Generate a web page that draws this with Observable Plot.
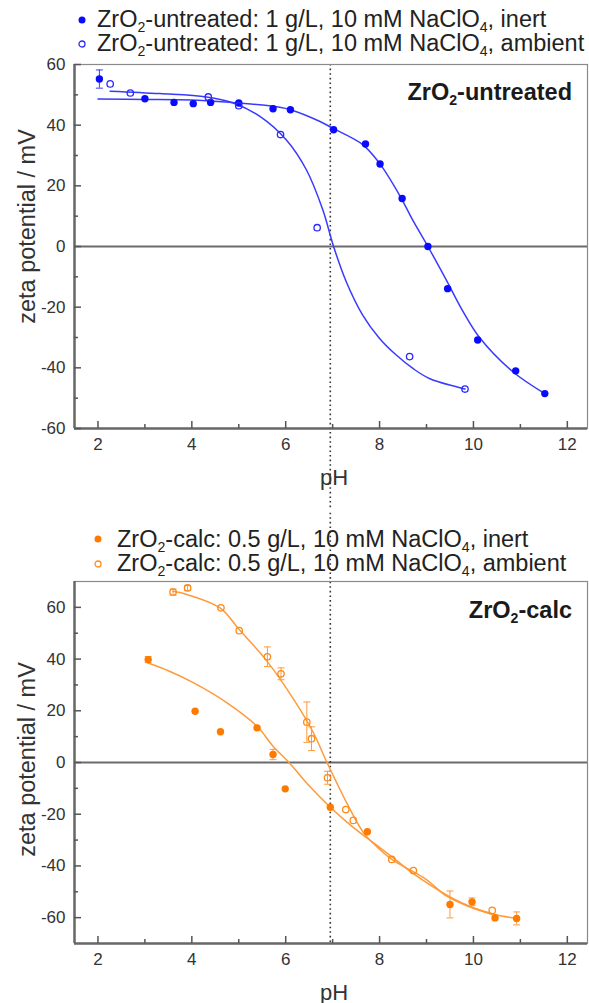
<!DOCTYPE html>
<html><head><meta charset="utf-8">
<script src="https://cdn.jsdelivr.net/npm/d3@7"></script>
<script src="https://cdn.jsdelivr.net/npm/@observablehq/plot@0.6"></script>
<style>
body{margin:0;background:#fff;font-family:"Liberation Sans",Arial,sans-serif;color:#222}
#wrap{position:relative;width:589px;height:1003px;overflow:hidden;background:#fff}
.leg{position:absolute;white-space:nowrap;font-size:23.5px;line-height:23px;color:#222}
.leg sub,.ttl sub{font-size:0.6em;vertical-align:-0.35em;line-height:0}
.leg svg{position:absolute;overflow:visible}
.ttl{position:absolute;font-weight:bold;font-size:23.5px;line-height:24px;white-space:nowrap;color:#1a1a1a}
.pl{position:absolute;left:0}
</style></head><body>
<div id="wrap">
  <div id="p1" class="pl" style="top:30px"></div>
  <div id="p2" class="pl" style="top:510px"></div>
  <div class="leg" style="left:97px;top:8px"><svg width="10" height="10" style="left:-20px;top:7px"><circle cx="5" cy="5" r="3.5" fill="#0a0aff"/></svg>ZrO<sub>2</sub>-untreated: 1 g/L, 10 mM NaClO<sub>4</sub>, inert</div>
  <div class="leg" style="left:97px;top:32px"><svg width="10" height="10" style="left:-20px;top:7px"><circle cx="5" cy="5" r="3" fill="none" stroke="#2a2aff" stroke-width="1.3"/></svg>ZrO<sub>2</sub>-untreated: 1 g/L, 10 mM NaClO<sub>4</sub>, ambient</div>
  <div class="leg" style="left:117px;top:528px"><svg width="10" height="10" style="left:-24px;top:6px"><circle cx="5" cy="5" r="3.5" fill="#ff7a00"/></svg>ZrO<sub>2</sub>-calc: 0.5 g/L, 10 mM NaClO<sub>4</sub>, inert</div>
  <div class="leg" style="left:117px;top:552px"><svg width="10" height="10" style="left:-24px;top:7px"><circle cx="5" cy="5" r="3" fill="none" stroke="#ff8a1a" stroke-width="1.3"/></svg>ZrO<sub>2</sub>-calc: 0.5 g/L, 10 mM NaClO<sub>4</sub>, ambient</div>
  <div class="ttl" style="right:17px;top:80px">ZrO<sub>2</sub>-untreated</div>
  <div class="ttl" style="right:17px;top:598px">ZrO<sub>2</sub>-calc</div>
</div>
<script>
// ---------- axes / ticks ----------
const xDomain = [1.5, 12.43];
const xMajor = [2, 4, 6, 8, 10, 12];
const xMinor = [3, 5, 7, 9, 11];
const yDomainTop = [-60, 60];
const yDomainBottom = [-70, 70];
const yMajor = [-60, -40, -20, 0, 20, 40, 60];
const yMinor = [-50, -30, -10, 10, 30, 50];
const iepPH = [6.95];               // dotted reference line (pH)
const iepSpanTop = [60, -95];       // zeta span of dotted line in top panel
const iepSpanBottom = [100, -70];   // zeta span of dotted line in bottom panel

// ---------- ZrO2-untreated (top) ----------
const untrInertPH   = [2.03, 3.0, 3.62, 4.03, 4.40, 5.0, 5.73, 6.1, 7.02, 7.70, 8.01, 8.48, 9.03, 9.45, 10.09, 10.9, 11.52];
const untrInertZeta = [55.2, 48.7, 47.5, 47.1, 47.5, 47.3, 45.4, 45.1, 38.5, 33.8, 27.2, 15.8, 0.0, -13.9, -30.8, -41.0, -48.5];
const untrInertErr  = [3.0, 0, 0, 0, 0, 0, 0, 0, 0, 0, 0, 0, 0, 0, 0, 0, 0];

const untrAmbPH   = [2.26, 2.69, 4.35, 5.0, 5.89, 6.67, 8.64, 9.82];
const untrAmbZeta = [53.6, 50.6, 49.3, 46.4, 36.9, 6.2, -36.3, -47.0];

const untrInertFitPH   = [2.0, 3.0, 4.0, 5.0, 5.87, 6.1, 6.72, 7.0, 7.64, 8.0, 8.43, 8.71, 9.03, 9.42, 9.77, 10.13, 10.84, 11.52];
const untrInertFitZeta = [48.6, 48.5, 48.3, 47.3, 45.9, 45.1, 41.3, 39.0, 33.6, 27.4, 16.8, 8.6, 0.0, -11.0, -21.2, -30.0, -41.3, -48.5];

const untrAmbFitPH   = [2.26, 3.32, 4.31, 4.88, 5.45, 6.01, 6.44, 6.79, 7.02, 7.29, 7.64, 8.0, 8.35, 8.71, 9.06, 9.82];
const untrAmbFitZeta = [51.2, 50.4, 49.3, 47.3, 42.9, 35.2, 25.3, 12.1, 0.0, -11.6, -22.6, -30.3, -35.7, -40.2, -43.5, -47.0];

// ---------- ZrO2-calc (bottom) ----------
const calcInertPH   = [3.07, 4.07, 4.61, 5.39, 5.73, 5.99, 6.95, 7.74, 9.50, 9.97, 10.46, 10.92];
const calcInertZeta = [39.8, 19.8, 11.9, 13.4, 3.1, -10.2, -17.3, -26.8, -54.9, -53.9, -60.1, -60.3];
const calcInertErr  = [1.2, 0, 0, 0, 2.0, 0, 0, 0, 5.2, 1.5, 0, 2.5];

const calcAmbPH   = [3.60, 3.91, 4.62, 5.01, 5.61, 5.90, 6.45, 6.55, 6.89, 7.28, 7.44, 8.26, 8.72, 10.40];
const calcAmbZeta = [65.9, 67.5, 59.8, 51.0, 40.9, 34.3, 15.6, 9.2, -5.9, -18.2, -22.4, -37.5, -41.8, -57.2];
const calcAmbErr  = [1.2, 1.0, 0, 0, 3.8, 2.3, 7.8, 4.6, 2.5, 0, 0, 0, 0, 0];

const calcInertFitPH   = [3.07, 3.5, 4.04, 4.75, 5.39, 5.73, 6.07, 6.5, 6.95, 7.4, 7.9, 8.3, 8.72, 9.5, 9.97, 10.46, 10.92];
const calcInertFitZeta = [38.5, 35.5, 30.8, 23.1, 14.0, 6.3, 0.0, -9.0, -17.3, -24.5, -31.5, -37.0, -43.0, -52.0, -56.0, -58.8, -60.3];

const calcAmbFitPH   = [3.60, 3.91, 4.6, 5.01, 5.6, 6.17, 6.59, 6.88, 7.3, 7.66, 8.0, 8.26, 8.99, 9.43, 9.97, 10.4];
const calcAmbFitZeta = [66.2, 64.9, 59.8, 51.4, 39.2, 24.4, 11.5, 0.0, -15.6, -27.2, -33.5, -37.5, -45.2, -51.7, -56.2, -58.8];

const zip = (xs, ys, es) => xs.map((x, i) => ({ph: x, z: ys[i], e: es ? es[i] : 0}));

const capSymbol = {draw(ctx, size) { const w = Math.sqrt(size / Math.PI); ctx.moveTo(-w, 0); ctx.lineTo(w, 0); }};

const W = 589, ML = 74, MR = 2;
const FW = W - ML - MR;

function panel({height, marginTop, marginBottom, yDomain, iepSpan, labelDy, series}) {
  const FH = height - marginTop - marginBottom;
  const marks = [
    Plot.ruleY([0], {stroke: "#6b6b6b", strokeWidth: 2}),
    Plot.ruleX(iepPH, {x: d => d, y1: iepSpan[0], y2: iepSpan[1], stroke: "#333", strokeWidth: 1.6, strokeDasharray: "1.6,3"})
  ];
  for (const s of series) {
    marks.push(Plot.line(s.fit, {x: "ph", y: "z", curve: "catmull-rom", stroke: s.line, strokeWidth: 1.5}));
  }
  for (const s of series) {
    const errs = s.pts.filter(d => d.e > 0);
    marks.push(Plot.ruleX(errs, {x: "ph", y1: d => d.z - d.e, y2: d => d.z + d.e, stroke: s.line, strokeWidth: 1}));
    marks.push(Plot.dot(errs, {x: "ph", y: d => d.z + d.e, symbol: capSymbol, r: 3.5, stroke: s.line, strokeWidth: 1, fill: "none"}));
    marks.push(Plot.dot(errs, {x: "ph", y: d => d.z - d.e, symbol: capSymbol, r: 3.5, stroke: s.line, strokeWidth: 1, fill: "none"}));
    if (s.open) marks.push(Plot.dot(s.pts, {x: "ph", y: "z", r: 3.2, stroke: s.color, strokeWidth: 1.3, fill: "none"}));
    else marks.push(Plot.dot(s.pts, {x: "ph", y: "z", r: 3.7, fill: s.color, stroke: "none"}));
  }
  marks.push(
    Plot.frame({stroke: "#8a8a8a", strokeWidth: 1.2}),
    Plot.ruleX([xDomain[0]], {stroke: "#686868", strokeWidth: 2.5}),
    Plot.ruleY([yDomain[0]], {stroke: "#686868", strokeWidth: 2.5}),
    Plot.tickY(yMajor, {y: d => d, insetRight: FW - 7, stroke: "#555", strokeWidth: 1.5}),
    Plot.tickY(yMinor, {y: d => d, insetRight: FW - 4, stroke: "#555", strokeWidth: 1.5}),
    Plot.tickX(xMajor, {x: d => d, insetTop: FH - 7, stroke: "#555", strokeWidth: 1.5}),
    Plot.tickX(xMinor, {x: d => d, insetTop: FH - 4, stroke: "#555", strokeWidth: 1.5}),
    Plot.axisX({ticks: xMajor, tickSize: 0, tickPadding: 9, label: null, fontSize: 17, fill: "#333", tickFormat: d => String(d)}),
    Plot.axisY({ticks: yMajor, tickSize: 0, tickPadding: 9, label: null, fontSize: 17, fill: "#333", tickFormat: d => String(d)}),
    Plot.text(["pH"], {frameAnchor: "bottom", textAnchor: "middle", dx: 3, dy: 56, lineAnchor: "bottom", fontSize: 22, fill: "#333"}),
    Plot.text(["zeta potential / mV"], {frameAnchor: "left", textAnchor: "middle", lineAnchor: "middle", rotate: -90, dx: -47, dy: labelDy, fontSize: 23.5, fill: "#333"})
  );
  return Plot.plot({
    width: W, height, marginTop, marginBottom, marginLeft: ML, marginRight: MR,
    x: {domain: xDomain}, y: {domain: yDomain},
    style: {fontFamily: "'Liberation Sans', Arial, sans-serif", fontSize: "17px", background: "transparent", color: "#333"},
    marks
  });
}

document.getElementById("p1").append(panel({
  height: 480, marginTop: 34, marginBottom: 82, yDomain: yDomainTop, iepSpan: iepSpanTop, labelDy: -20,
  series: [
    {pts: zip(untrInertPH, untrInertZeta, untrInertErr), fit: zip(untrInertFitPH, untrInertFitZeta), color: "#0a0aff", line: "#3a3aff", open: false},
    {pts: zip(untrAmbPH, untrAmbZeta), fit: zip(untrAmbFitPH, untrAmbFitZeta), color: "#2a2aff", line: "#3a3aff", open: true}
  ]
}));
document.getElementById("p2").append(panel({
  height: 493, marginTop: 71, marginBottom: 60, yDomain: yDomainBottom, iepSpan: iepSpanBottom, labelDy: -3,
  series: [
    {pts: zip(calcInertPH, calcInertZeta, calcInertErr), fit: zip(calcInertFitPH, calcInertFitZeta), color: "#ff7a00", line: "#ff9a3a", open: false},
    {pts: zip(calcAmbPH, calcAmbZeta, calcAmbErr), fit: zip(calcAmbFitPH, calcAmbFitZeta), color: "#ff8a1a", line: "#ff9a3a", open: true}
  ]
}));
</script>
</body></html>
